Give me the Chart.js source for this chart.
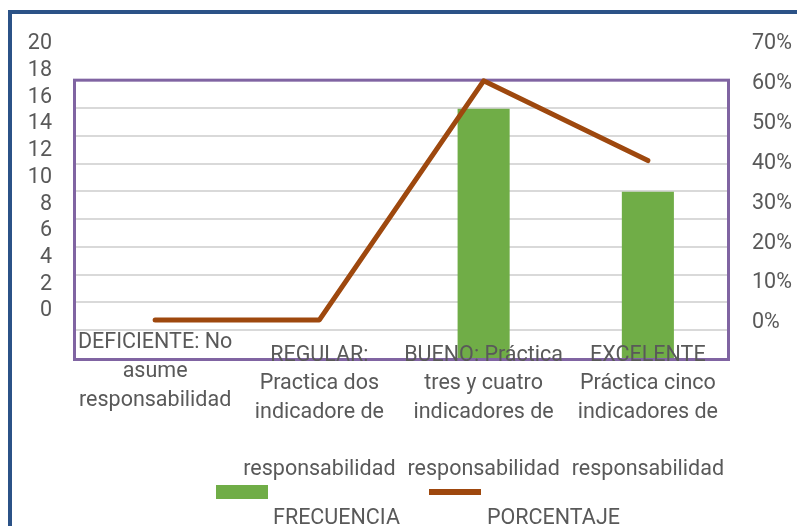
<!DOCTYPE html>
<html>
<head>
<meta charset="utf-8">
<script src="https://cdn.jsdelivr.net/npm/chart.js@4.4.1/dist/chart.umd.min.js"></script>
<style>
  html, body { margin: 0; padding: 0; background: #fff; }
  #wrap { position: relative; width: 797px; height: 526px; overflow: hidden; }
  #frame { position: absolute; left: 8px; top: 10px; width: 900px; height: 600px;
           border-left: 4px solid #2B5287; border-top: 4px solid #2B5287; }
  #chart { position: absolute; left: 0; top: 0; }
  .lg { position: absolute; font-family: Roboto, sans-serif; font-size: 21.5px;
        line-height: 26px; color: #595959; white-space: nowrap; }
  .mk { position: absolute; }
</style>
</head>
<body>
<div id="wrap">
  <div id="frame"></div>
  <canvas id="chart" width="797" height="526"></canvas>
  <div id="legend"></div>
</div>
<script>
var categories = [
  ['DEFICIENTE: No', 'asume', 'responsabilidad', ''],
  ['REGULAR:', 'Practica dos', 'indicadore de', '', 'responsabilidad'],
  ['BUENO: Práctica', 'tres y cuatro', 'indicadores de', '', 'responsabilidad'],
  ['EXCELENTE', 'Práctica cinco', 'indicadores de', '', 'responsabilidad']
];
var frecuencia = [0, 0, 15, 10];
var porcentaje = [0, 0, 0.6, 0.4];
var seriesNames = ['FRECUENCIA', 'PORCENTAJE'];
var seriesColors = ['#70AD47', '#9E480E'];

// tick labels as shown on the two side axes
var leftTicks = [0, 2, 4, 6, 8, 10, 12, 14, 16, 18, 20];
var rightTicks = [0, 0.1, 0.2, 0.3, 0.4, 0.5, 0.6, 0.7];

var textColor = '#595959';
var fontFam = 'Roboto, sans-serif';

function near(list, v) {
  for (var i = 0; i < list.length; i++) {
    if (Math.abs(list[i] - v) < 1e-6) return true;
  }
  return false;
}

// purple plot-area box, drawn from the grid scale
var plotBox = {
  id: 'plotBox',
  beforeDatasetsDraw: function(chart) {
    var ctx = chart.ctx, area = chart.chartArea;
    var top = chart.scales.yGrid.getPixelForValue(10);
    ctx.save();
    ctx.strokeStyle = '#8064A2';
    ctx.lineWidth = 3;
    ctx.strokeRect(area.left + 1.5, top, area.right - area.left - 3, area.bottom + 1.5 - top);
    ctx.restore();
  }
};

var ctx = document.getElementById('chart');
new Chart(ctx, {
  type: 'bar',
  data: {
    labels: categories,
    datasets: [{
      label: seriesNames[0],
      data: frecuencia,
      backgroundColor: seriesColors[0],
      yAxisID: 'yBar',
      barPercentage: 0.317,
      categoryPercentage: 1,
      order: 1
    }, {
      type: 'line',
      label: seriesNames[1],
      data: porcentaje,
      borderColor: seriesColors[1],
      borderWidth: 5,
      pointRadius: 0,
      tension: 0,
      borderCapStyle: 'round',
      borderJoinStyle: 'round',
      yAxisID: 'y1',
      order: 0
    }]
  },
  options: {
    responsive: false,
    animation: false,
    layout: { padding: { top: 41, left: 28, right: 5, bottom: 18 } },
    plugins: { legend: { display: false }, tooltip: { enabled: false } },
    scales: {
      x: {
        grid: { display: false, drawTicks: false },
        border: { display: false },
        afterFit: function(s) { s.paddingLeft = 0; s.paddingRight = 0; s.height = 150; },
        ticks: {
          z: 1,
          color: textColor,
          autoSkip: false,
          maxRotation: 0,
          minRotation: 0,
          crossAlign: 'center',
          mirror: true,
          padding: 2.5,
          font: function(c) {
            return { family: fontFam, size: 21.5, lineHeight: c.index === 0 ? 1.36 : 1.33 };
          }
        }
      },
      y: {
        position: 'left',
        min: -3.745,
        max: 20,
        afterFit: function(s) { s.width = 45; },
        grid: { display: false, drawTicks: false },
        border: { display: false },
        ticks: {
          stepSize: 2,
          autoSkip: false,
          padding: 21,
          labelOffset: 3,
          color: textColor,
          font: { family: fontFam, size: 21.5 },
          callback: function(v) { return near(leftTicks, v) ? Math.round(v) : ''; }
        }
      },
      yGrid: {
        position: 'left',
        min: 0,
        max: 11.41,
        afterFit: function(s) { s.width = 0; },
        grid: {
          drawTicks: false,
          lineWidth: 2,
          color: function(c) {
            var v = c.tick.value;
            return (v > 0.5 && v < 9.5) ? '#D9D9D9' : 'rgba(0,0,0,0)';
          }
        },
        border: { display: false },
        ticks: { display: false, stepSize: 1 }
      },
      yBar: {
        display: false,
        min: 0,
        max: 19.07
      },
      y1: {
        position: 'right',
        min: -0.0955,
        max: 0.70,
        afterFit: function(s) { s.width = 62; },
        grid: { display: false, drawTicks: false },
        border: { display: false },
        ticks: {
          stepSize: 0.1,
          autoSkip: false,
          padding: 22,
          labelOffset: 3,
          color: textColor,
          font: { family: fontFam, size: 21.5 },
          callback: function(v) { return near(rightTicks, v) ? Math.round(v * 100) + '%' : ''; }
        }
      }
    }
  },
  plugins: [plotBox]
});

// legend laid out like the original: markers on one row, names below them
var lg = document.getElementById('legend');
var markers = [
  { left: 216, top: 485, w: 52, h: 14 },
  { left: 429, top: 489, w: 52, h: 6 }
];
var names = [{ left: 273, top: 504 }, { left: 487, top: 504 }];
seriesNames.forEach(function(n, i) {
  var m = document.createElement('div');
  m.className = 'mk';
  m.style.left = markers[i].left + 'px';
  m.style.top = markers[i].top + 'px';
  m.style.width = markers[i].w + 'px';
  m.style.height = markers[i].h + 'px';
  m.style.background = seriesColors[i];
  lg.appendChild(m);
  var t = document.createElement('div');
  t.className = 'lg';
  t.style.left = names[i].left + 'px';
  t.style.top = names[i].top + 'px';
  t.textContent = n;
  lg.appendChild(t);
});
</script>
</body>
</html>
